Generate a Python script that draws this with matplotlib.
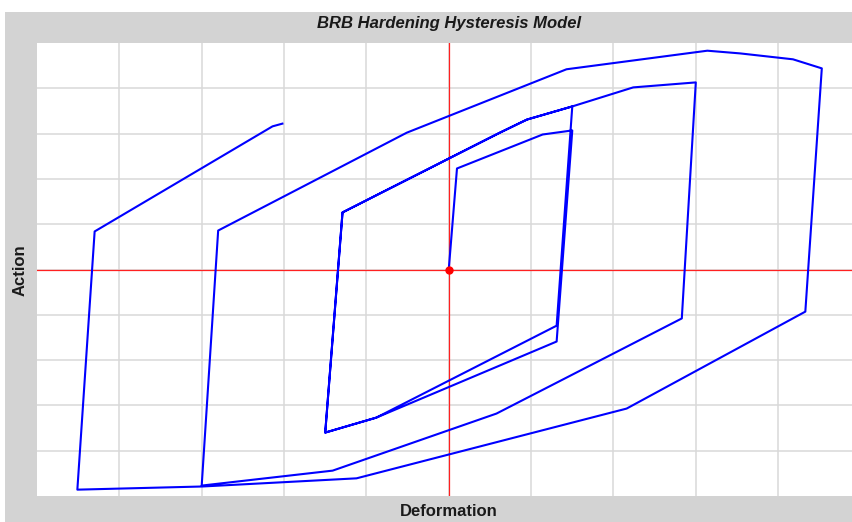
import matplotlib
matplotlib.use("Agg")
import matplotlib.pyplot as plt
from matplotlib.patches import Rectangle

deformation = [0.0, 0.10, 1.14, 1.50, 1.31, -0.88, -1.50, -1.29, 0.62, 0.95, 1.50,
               1.31, -0.88, -1.50, -1.29, 0.62, 0.95, 1.50, 2.24, 3.00,
               2.83, 0.58, -1.41, -3.00, -2.80, -0.51, 1.43, 3.14, 3.54, 4.18, 4.53,
               4.33, 2.16, -1.12, -2.99, -4.51, -4.30, -2.14, -2.02]
action = [0.0, 2.23, 2.98, 3.07, -1.59, -3.27, -3.60, 1.26, 3.02, 3.31, 3.60,
          -1.24, -3.27, -3.60, 1.26, 3.02, 3.31, 3.60, 4.02, 4.13,
          -1.08, -3.18, -4.44, -4.77, 0.86, 3.02, 4.42, 4.83, 4.77, 4.64, 4.44,
          -0.93, -3.07, -4.61, -4.79, -4.86, 0.84, 3.16, 3.22]

title = "BRB Hardening Hysteresis Model"
xlabel = "Deformation"
ylabel = "Action"

plt.rcParams['font.family'] = ['Liberation Sans', 'DejaVu Sans']

fig = plt.figure(figsize=(8.53, 5.22), dpi=100, facecolor="white")
fig.patches.append(Rectangle((5 / 853, 0), 1, (522 - 12) / 522, transform=fig.transFigure,
                             facecolor="#d3d3d3", edgecolor="none", zorder=-10))

ax = fig.add_axes([37 / 853, (522 - 496) / 522, (853 - 37) / 853, (496 - 43) / 522])
ax.set_zorder(1)
ax.set_facecolor("white")
ax.set_xlim(-5, (853 - 449) / 82.3)
ax.set_ylim(-5, 5)
ax.set_xticks(range(-4, 5))
ax.set_yticks(range(-4, 5))
ax.grid(True, color="#d8d8d8", linewidth=1.1)
ax.tick_params(length=0, labelbottom=False, labelleft=False)
for s in ax.spines.values():
    s.set_visible(False)

ax.axhline(0, color="#ff2020", linewidth=0.9, zorder=2)
ax.axvline(0, color="#ff2020", linewidth=0.9, zorder=2)
ax.plot(deformation, action, color="#0000ff", linewidth=1.5, zorder=3)
ax.plot([0], [0], marker="o", color="#ff0000", markersize=5, zorder=4)

fig.text(449 / 853, 1 - 24 / 522, title, ha="center", va="center",
         fontsize=12, fontweight="bold", fontstyle="italic", color="#1a1a1a")
fig.text(449 / 853, 1 - 511 / 522, xlabel, ha="center", va="center",
         fontsize=12, fontweight="bold", color="#1a1a1a")
fig.text(20 / 853, 1 - 270 / 522, ylabel, ha="center", va="center", rotation=90,
         fontsize=12, fontweight="bold", color="#1a1a1a")

fig.savefig("out.png", dpi=100, facecolor="white")
